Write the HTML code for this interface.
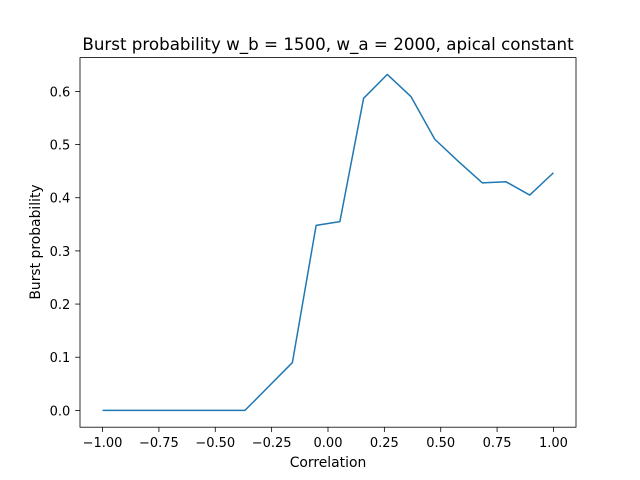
<!DOCTYPE html>
<html><head><meta charset="utf-8"><style>
html,body{margin:0;padding:0;background:#fff;}
svg{display:block;font-family:"DejaVu Sans","Liberation Sans",sans-serif;}
</style></head><body>
<svg id="chart" width="640" height="480" viewBox="0 0 640 480">
<rect width="640" height="480" fill="#fff"/>
<text x="328" y="50" font-size="16.7" text-anchor="middle">Burst probability w_b = 1500, w_a = 2000, apical constant</text>
<g id="xt"></g><g id="yt"></g>
<path id="line" fill="none" stroke="#1f77b4" stroke-width="1.5" stroke-linejoin="round"/>
<rect x="80" y="57.6" width="496" height="369.6" fill="none" stroke="#000" stroke-width="0.8"/>
<text x="328" y="467" font-size="13.9" text-anchor="middle">Correlation</text>
<text transform="translate(40,242) rotate(-90)" font-size="13.9" text-anchor="middle">Burst probability</text>
</svg>
<script>
const xValues=[];for(let i=0;i<20;i++)xValues.push(-1+2*i/19);
const yValues=[0,0,0,0,0,0,0,0.045,0.09,0.348,0.355,0.587,0.632,0.59,0.51,0.468,0.428,0.43,0.405,0.447];
const xTicks=[-1,-0.75,-0.5,-0.25,0,0.25,0.5,0.75,1];
const xTickLabels=["−1.00","−0.75","−0.50","−0.25","0.00","0.25","0.50","0.75","1.00"];
const yTicks=[0,0.1,0.2,0.3,0.4,0.5,0.6];
const yTickLabels=["0.0","0.1","0.2","0.3","0.4","0.5","0.6"];
const L=80,R=576,T=57.6,B=427.2;
const xmin=-1.1,xmax=1.1;
const ymax0=Math.max(...yValues),ymin0=Math.min(...yValues),pad=(ymax0-ymin0)*0.05;
const ymin=ymin0-pad,ymax=ymax0+pad;
const sx=v=>L+(v-xmin)/(xmax-xmin)*(R-L);
const sy=v=>B-(v-ymin)/(ymax-ymin)*(B-T);
const NS="http://www.w3.org/2000/svg";
const xt=document.getElementById('xt'),yt=document.getElementById('yt');
xTicks.forEach((t,i)=>{const x=sx(t);
 const l=document.createElementNS(NS,'line');l.setAttribute('x1',x);l.setAttribute('x2',x);l.setAttribute('y1',B);l.setAttribute('y2',B+4.86);l.setAttribute('stroke','#000');l.setAttribute('stroke-width','0.8');
 
 xt.appendChild(l);
 const s=document.createElementNS(NS,'text');s.setAttribute('x',x);s.setAttribute('y',B+20);s.setAttribute('font-size','13');s.setAttribute('text-anchor','middle');s.textContent=xTickLabels[i];
 
 xt.appendChild(s);});
yTicks.forEach((t,i)=>{const y=sy(t);
 const l=document.createElementNS(NS,'line');l.setAttribute('x1',L-4.86);l.setAttribute('x2',L);l.setAttribute('y1',y);l.setAttribute('y2',y);l.setAttribute('stroke','#000');l.setAttribute('stroke-width','0.8');
 
 yt.appendChild(l);
 const s=document.createElementNS(NS,'text');s.setAttribute('x',L-9.7);s.setAttribute('y',y+5);s.setAttribute('font-size','13');s.setAttribute('text-anchor','end');s.textContent=yTickLabels[i];
 
 yt.appendChild(s);});
document.getElementById('line').setAttribute('d',xValues.map((x,i)=>(i?'L':'M')+sx(x).toFixed(2)+','+sy(yValues[i]).toFixed(2)).join(' '));
</script>
</body></html>
